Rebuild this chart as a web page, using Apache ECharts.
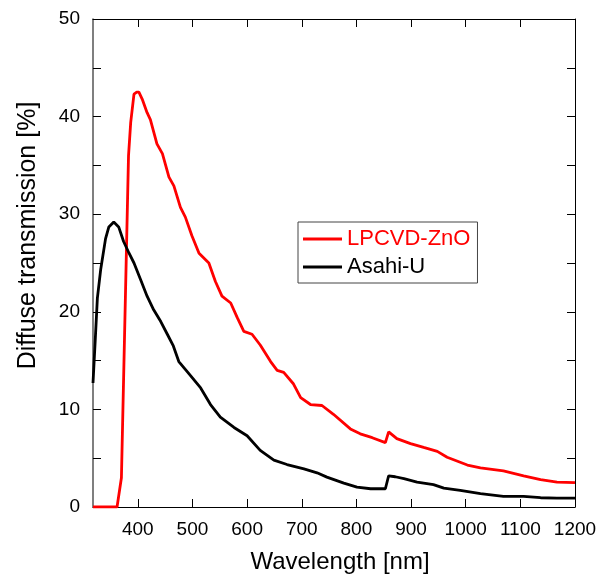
<!DOCTYPE html>
<html>
<head>
<meta charset="utf-8">
<script src="https://cdn.jsdelivr.net/npm/echarts@6/dist/echarts.min.js"></script>
<style>html,body{margin:0;padding:0;background:#fff;}#c{width:600px;height:579px;}</style>
</head>
<body>
<div id="c"></div>
<script>
// Data
const zno_wl = [318, 362, 370, 383, 387, 393, 398, 402, 408, 417, 423, 435, 445, 457, 466, 478, 487, 499, 512, 530, 542, 554, 570, 582, 594, 609, 624, 643, 655, 667, 685, 698, 716, 737, 758, 789, 807, 829, 853, 859, 874, 899, 923, 948, 966, 1003, 1027, 1069, 1106, 1137, 1167, 1200];
const zno_val = [0, 0, 3.0, 36.0, 39.4, 42.3, 42.5, 42.5, 41.8, 40.4, 39.7, 37.2, 36.2, 33.8, 32.9, 30.7, 29.7, 27.8, 26.0, 25.0, 23.1, 21.6, 20.9, 19.4, 18.0, 17.7, 16.6, 14.9, 14.0, 13.8, 12.6, 11.2, 10.5, 10.4, 9.5, 8.0, 7.5, 7.1, 6.6, 7.7, 7.0, 6.5, 6.1, 5.7, 5.1, 4.3, 4.0, 3.7, 3.2, 2.8, 2.55, 2.5];
const asahi_wl = [318, 322, 326, 332, 341, 347, 356, 365, 374, 384, 393, 405, 417, 429, 442, 454, 465, 475, 490, 515, 533, 551, 576, 600, 624, 649, 673, 704, 728, 746, 777, 801, 826, 853, 859, 871, 887, 911, 941, 960, 990, 1027, 1069, 1106, 1137, 1167, 1200];
const asahi_val = [12.7, 17.0, 21.4, 24.3, 27.5, 28.7, 29.2, 28.7, 27.2, 26.0, 25.0, 23.3, 21.6, 20.2, 19.0, 17.7, 16.5, 14.9, 13.9, 12.2, 10.5, 9.2, 8.15, 7.3, 5.8, 4.8, 4.35, 3.9, 3.5, 3.06, 2.45, 2.04, 1.87, 1.87, 3.2, 3.1, 2.9, 2.55, 2.3, 1.94, 1.7, 1.36, 1.09, 1.09, 0.95, 0.9, 0.9];
const xTicks = [400, 500, 600, 700, 800, 900, 1000, 1100, 1200];
const seriesNames = ['LPCVD-ZnO', 'Asahi-U'];
const xTitle = 'Wavelength [nm]';
const yTitle = 'Diffuse transmission [%]';

const zip = (a, b) => a.map((v, i) => [v, b[i]]);
const FONT = 'Liberation Sans, Arial, sans-serif';

const chart = echarts.init(document.getElementById('c'), null, {renderer: 'canvas'});
const tickStyle = {inside: true, length: 8, lineStyle: {color: '#000', width: 1}};
chart.setOption({
  animation: false,
  backgroundColor: '#fff',
  grid: {left: 93, top: 19, right: 25, bottom: 69, containLabel: false},
  legend: {
    left: 298, top: 222, orient: 'vertical',
    borderColor: '#444', borderWidth: 1, borderRadius: 0,
    padding: [6, 7, 5, 5], itemGap: 6, itemWidth: 39, itemHeight: 3,
    icon: 'rect',
    textStyle: {fontFamily: FONT, fontSize: 22},
    data: [
      {name: seriesNames[0], textStyle: {color: '#ff0000'}},
      {name: seriesNames[1], textStyle: {color: '#000'}}
    ]
  },
  xAxis: [{
    type: 'value', min: 318, max: 1200,
    axisLine: {lineStyle: {color: '#000', width: 1}},
    axisTick: Object.assign({customValues: xTicks}, tickStyle),
    axisLabel: {customValues: xTicks, fontFamily: FONT, fontSize: 19, color: '#000', margin: 13,
      formatter: v => String(v)},
    splitLine: {show: false},
    name: xTitle, nameLocation: 'middle', nameGap: 43,
    nameTextStyle: {fontFamily: FONT, fontSize: 24, color: '#000', padding: [0, 0, 0, 12]}
  }, {
    type: 'value', min: 318, max: 1200, position: 'top',
    axisLine: {onZero: false, lineStyle: {color: '#000', width: 1}},
    axisTick: Object.assign({customValues: xTicks}, tickStyle),
    axisLabel: {show: false}, splitLine: {show: false}
  }],
  yAxis: [{
    type: 'value', min: 0, max: 50, interval: 5,
    axisLine: {show: true, lineStyle: {color: '#555', width: 1.5}},
    axisTick: tickStyle,
    axisLabel: {fontFamily: FONT, fontSize: 19, color: '#000', margin: 13,
      formatter: v => (v % 10 === 0 ? String(v) : '')},
    splitLine: {show: false},
    name: yTitle, nameLocation: 'middle', nameGap: 52,
    nameTextStyle: {fontFamily: FONT, fontSize: 25, color: '#000', padding: [0, 0, 0, 55]}
  }, {
    type: 'value', min: 0, max: 50, interval: 5, position: 'right',
    axisLine: {show: true, onZero: false, lineStyle: {color: '#000', width: 1}},
    axisTick: tickStyle,
    axisLabel: {show: false}, splitLine: {show: false}
  }],
  series: [{
    name: seriesNames[0], type: 'line', data: zip(zno_wl, zno_val),
    symbol: 'none', lineStyle: {color: '#ff0000', width: 2.8}, itemStyle: {color: '#ff0000'}
  }, {
    name: seriesNames[1], type: 'line', data: zip(asahi_wl, asahi_val),
    symbol: 'none', lineStyle: {color: '#000', width: 2.8}, itemStyle: {color: '#000'}
  }]
});
</script>
</body>
</html>
